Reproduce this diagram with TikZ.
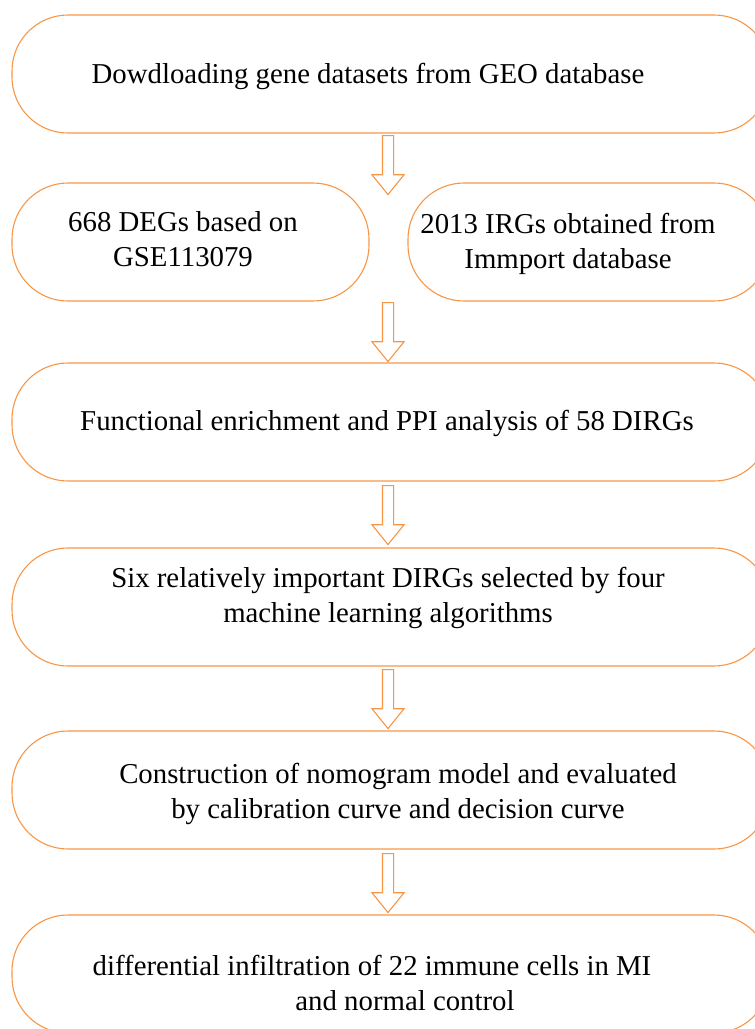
\documentclass[tikz,border=0pt]{standalone}
\usepackage{fontspec}
\setmainfont{Liberation Serif}
\usetikzlibrary{shapes.arrows}
\definecolor{flowline}{RGB}{247,150,70}

\begin{document}
\begin{tikzpicture}[x=1pt, y=-1pt,
        stadium/.style={draw=flowline, line width=1.1pt, rounded corners=56pt, minimum height=118pt},
        steptext/.style={font=\fontsize{28.8pt}{34.5pt}\selectfont, align=center, inner sep=0pt},
        downarrow/.style={single arrow, draw=flowline, fill=white, line width=1.1pt,
            shape border rotate=270, inner xsep=5pt, inner ysep=0pt,
            single arrow head extend=10.5pt, single arrow tip angle=78,
            minimum height=59pt, anchor=tail}]
        \useasboundingbox (0, 0) rectangle (755, 1029);
        \clip (0, 0) rectangle (755, 1029);

        % boxes
        \node[stadium, minimum width=758pt] (geo) at (391, 74) {};
        \node[stadium, minimum width=357pt] (degs) at (190.5, 242) {};
        \node[stadium, minimum width=362pt] (irgs) at (589, 242) {};
        \node[stadium, minimum width=758pt] (enrich) at (391, 422) {};
        \node[stadium, minimum width=758pt] (select) at (391, 607) {};
        \node[stadium, minimum width=758pt] (nomo) at (391, 790) {};
        \node[stadium, minimum width=758pt] (immune) at (391, 974) {};

        % texts
        \node[steptext] (geotext) at (368, 76) {Dowdloading gene datasets from GEO database};
        \node[steptext] (degstext) at (183, 239) {668 DEGs based on\\GSE113079};
        \node[steptext] (irgstext) at (568, 244) {2013 IRGs obtained from\\Immport database};
        \node[steptext] (enrichtext) at (387, 423) {Functional enrichment and PPI analysis of 58 DIRGs};
        \node[steptext] (selecttext) at (388, 598) {Six relatively important DIRGs selected by four\\machine learning algorithms};
        \node[steptext] (nomotext) at (398, 794) {Construction of nomogram model and evaluated\\by calibration curve and decision curve};
        \node[steptext] (immunetext) at (372, 983) {differential infiltration of 22 immune cells in MI\\\hspace*{66pt}and normal control};

        % arrows
        \node[downarrow] (a1) at (388, 135) {};
        \node[downarrow] (a2) at (388, 302) {};
        \node[downarrow] (a3) at (388, 485) {};
        \node[downarrow] (a4) at (388, 669) {};
        \node[downarrow] (a5) at (388, 853) {};
    \end{tikzpicture}
\end{document}
